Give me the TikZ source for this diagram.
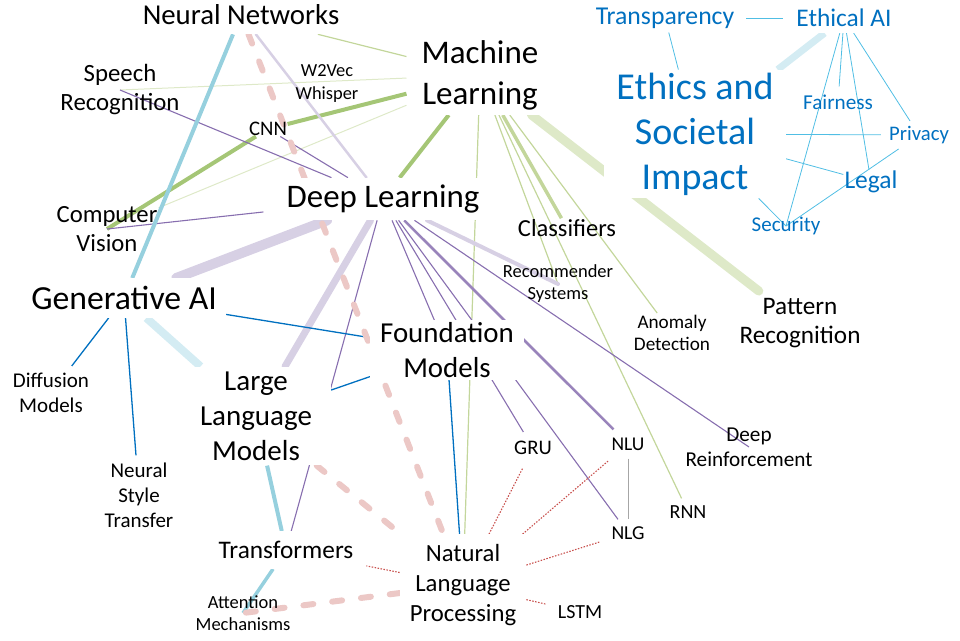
\documentclass[tikz,border=0pt]{standalone}
\usepackage{fontspec}
\setmainfont{Carlito}
\usepackage{tikz}
\usetikzlibrary{positioning,calc}
\pgfdeclarelayer{edges}
\pgfsetlayers{edges,main}

\newcommand{\setfs}[2]{\fontsize{#1}{#2}\selectfont}

\definecolor{mlgreenc}{RGB}{165,198,118}
\definecolor{mlgreenltc}{RGB}{195,214,155}
\definecolor{mlfaintc}{RGB}{222,233,200}
\definecolor{dlpurplec}{RGB}{135,110,175}
\definecolor{dlfaintc}{RGB}{215,208,228}
\definecolor{gabluec}{RGB}{0,112,192}
\definecolor{gacyanc}{RGB}{150,208,222}
\definecolor{gacyanltc}{RGB}{212,236,243}
\definecolor{nlppinkc}{RGB}{236,200,198}
\definecolor{nlpredc}{RGB}{200,80,77}
\definecolor{ethbluec}{RGB}{0,112,192}
\definecolor{ethlinec}{RGB}{80,190,228}

\begin{document}
\begin{tikzpicture}[x=1pt, y=-1pt,
    term/.style={align=center, inner sep=2pt},
    box/.style={term, fill=white},
    eth/.style={text=ethbluec},
    mlthick/.style={draw=mlgreenc, line width=4pt},
    mlmed/.style={draw=mlgreenltc, line width=3.5pt},
    mlthin/.style={draw=mlgreenltc, line width=1.2pt},
    mlfaint/.style={draw=mlfaintc, line width=1pt},
    mlwide/.style={draw=mlfaintc, line width=9pt, line cap=round},
    dlthin/.style={draw=dlpurplec, line width=1.1pt},
    dlmed/.style={draw=dlpurplec!85, line width=2.5pt},
    dlwide/.style={draw=dlfaintc, line width=#1, line cap=round},
    gathin/.style={draw=gabluec, line width=1.3pt},
    gacyan/.style={draw=gacyanc, line width=4pt},
    gawide/.style={draw=gacyanltc, line width=8pt},
    nlpdash/.style={draw=nlppinkc, line width=6pt, line cap=round, dash pattern=on 10pt off 19pt},
    nlpdot/.style={draw=nlpredc, line width=1.1pt, dash pattern=on 1.5pt off 1.5pt, shorten >=4pt},
    eththin/.style={draw=ethlinec, line width=0.8pt}]

    \useasboundingbox (0,0) rectangle (960,640);

    % Core terms
    \node[box, font=\setfs{28.8}{31}, inner xsep=4pt, inner ysep=9pt] (nn) at (241,15) {Neural Networks};
    \node[box, font=\setfs{33}{41}, inner xsep=15pt, inner ysep=5pt] (ml) at (480,75) {Machine\\Learning};
    \node[box, font=\setfs{32.9}{38}, inner xsep=23pt, inner ysep=7pt] (dl) at (383,199) {Deep Learning};
    \node[box, font=\setfs{33.7}{40}, inner xsep=9pt, inner ysep=8pt] (genai) at (124,298) {Generative AI};
    \node[box, font=\setfs{28.9}{35}, inner xsep=10pt, inner ysep=2pt] (found) at (447,350) {Foundation\\Models};
    \node[box, font=\setfs{29}{35}, inner xsep=19pt, inner ysep=5pt] (llm) at (256,416) {Large\\Language\\Models};
    \node[box, font=\setfs{25.3}{29}, inner xsep=9pt, inner ysep=10pt] (transf) at (286,550) {Transformers};
    \node[box, font=\setfs{24.7}{30}, inner xsep=10pt, inner ysep=10pt] (nlp) at (463,585) {Natural\\Language\\Processing};

    % Applications and methods
    \node[term, font=\setfs{24.8}{29}] (speech) at (120,90) {Speech\\Recognition};
    \node[term, font=\setfs{18.4}{23}] (w2v) at (327,84) {W2Vec\\Whisper};
    \node[term, font=\setfs{20.7}{22}, inner sep=0.5pt] (cnn) at (268,129) {CNN};
    \node[term, font=\setfs{24.7}{29}, inner sep=1pt] (cv) at (107,229) {Computer\\Vision};
    \node[term, font=\setfs{24.5}{29}, inner sep=1pt] (classif) at (567,228) {Classifiers};
    \node[term, font=\setfs{18.5}{22}] (recsys) at (558,284) {Recommender\\Systems};
    \node[term, font=\setfs{19.2}{22}] (anomaly) at (672,333) {Anomaly\\Detection};
    \node[term, font=\setfs{25.2}{29}, inner sep=7pt] (pr) at (800,323) {Pattern\\Recognition};
    \node[term, font=\setfs{21}{25}, inner sep=7pt] (diffusion) at (51,393) {Diffusion\\Models};
    \node[term, font=\setfs{21}{25}, inner sep=7pt] (nst) at (139,495) {Neural\\Style\\Transfer};
    \node[term, font=\setfs{20.7}{22}, inner sep=9pt] (gru) at (533,448) {GRU};
    \node[term, font=\setfs{19.5}{22}, inner sep=8pt] (nlu) at (628,444) {NLU};
    \node[term, font=\setfs{19.7}{22}, inner sep=7pt] (nlg) at (628,533) {NLG};
    \node[term, font=\setfs{20}{22}, inner sep=7pt] (rnn) at (688,512) {RNN};
    \node[term, font=\setfs{20}{22}, inner sep=8pt] (lstm) at (580,612) {LSTM};
    \node[term, font=\setfs{21.2}{25}] (deepr) at (749,447) {Deep\\Reinforcement};
    \node[term, font=\setfs{18.5}{22}] (attn) at (243,613) {Attention\\Mechanisms};

    % Ethics cluster
    \node[box, eth, font=\setfs{25.7}{29}, inner xsep=12pt, inner ysep=4pt] (transp) at (665,18) {Transparency};
    \node[box, eth, font=\setfs{25.4}{29}, inner xsep=13pt, inner ysep=6pt] (ethai) at (844,18) {Ethical AI};
    \node[box, eth, font=\setfs{38}{45}, inner xsep=12pt, inner ysep=3pt] (ethics) at (695,134) {Ethics and\\Societal\\Impact};
    \node[term, eth, font=\setfs{21.2}{24}, inner sep=8pt] (fair) at (838,102) {Fairness};
    \node[term, eth, font=\setfs{20.7}{24}, inner xsep=8pt, inner ysep=5pt] (priv) at (919,135) {Privacy};
    \node[term, eth, font=\setfs{25.5}{28}, inner sep=1pt] (legal) at (871,182) {Legal};
    \node[term, eth, font=\setfs{21}{24}] (secur) at (786,226) {Security};

    \begin{pgfonlayer}{edges}
    % Machine learning links
    \draw[mlwide] (ml) -- (pr);
    \draw[mlthin] (ml) -- (nn);
    \draw[mlthick] (ml) -- (cnn);
    \draw[mlthick] (cnn) -- (cv.center);
    \draw[mlfaint] (ml) -- (speech.center);
    \draw[mlfaint] (ml) -- (cv);
    \draw[mlthick] (ml) -- (dl);
    \draw[mlthin] (ml) -- (nlp);
    \draw[mlmed] (ml) -- (classif);
    \draw[mlthin] (ml) -- (recsys.center);
    \draw[mlthin] (ml) -- (rnn);
    \draw[mlthin] (ml) -- (anomaly);

    % Deep learning links
    \draw[dlwide=2.5pt] (nn) -- (dl);
    \draw[dlwide=10pt] (dl) -- (genai);
    \draw[dlwide=7pt] (dl) -- (llm);
    \draw[dlwide=4pt] (dl) -- (recsys.center);
    \draw[dlthin] (speech.center) -- (dl);
    \draw[dlthin] (cnn) -- (dl);
    \draw[dlthin] (cv.center) -- (dl);
    \draw[dlthin] (dl) -- (transf);
    \draw[dlthin] (dl) -- (found);
    \draw[dlthin] (dl) -- (gru);
    \draw[dlthin] (dl) -- (nlg);
    \draw[dlmed] (dl) -- (nlu);
    \draw[dlthin] (dl) -- (deepr.center);

    % Generative AI links
    \draw[gacyan] (nn) -- (genai);
    \draw[gawide] (genai) -- (llm);
    \draw[gathin] (genai) -- (diffusion);
    \draw[gathin] (genai) -- (nst);
    \draw[gathin] (genai) -- (found);
    \draw[gathin] (llm) -- (found);
    \draw[gathin] (found) -- (nlp);
    \draw[gacyan] (llm) -- (transf);
    \draw[gacyan, line width=3.5pt] (transf) -- (attn.center);

    % Language processing links
    \draw[nlpdash] (nn) -- (nlp);
    \draw[nlpdash] (llm) -- (nlp);
    \draw[nlpdash] (nlp) -- (attn.center);
    \draw[nlpdot] (nlp) -- (gru);
    \draw[nlpdot] (nlp) -- (nlu);
    \draw[nlpdot] (nlp) -- (nlg);
    \draw[nlpdot] (nlp) -- (lstm);
    \draw[nlpdot] (nlp) -- (transf);
    \draw[draw=black!35, line width=1pt] (nlu) -- (nlg);

    % Ethics links
    \draw[gawide, line width=7pt] (ethai) -- (ethics);
    \draw[eththin] (transp) -- (ethai);
    \draw[eththin] (transp) -- (ethics);
    \draw[eththin] (ethai) -- (fair);
    \draw[eththin] (ethai) -- (secur.center);
    \draw[eththin] (ethai) -- (legal);
    \draw[eththin] (ethai) -- (priv);
    \draw[eththin] (ethics) -- (priv);
    \draw[eththin] (ethics) -- (legal);
    \draw[eththin] (ethics) -- (secur.center);
    \draw[eththin] (priv) -- (secur.center);
    \end{pgfonlayer}
\end{tikzpicture}
\end{document}
